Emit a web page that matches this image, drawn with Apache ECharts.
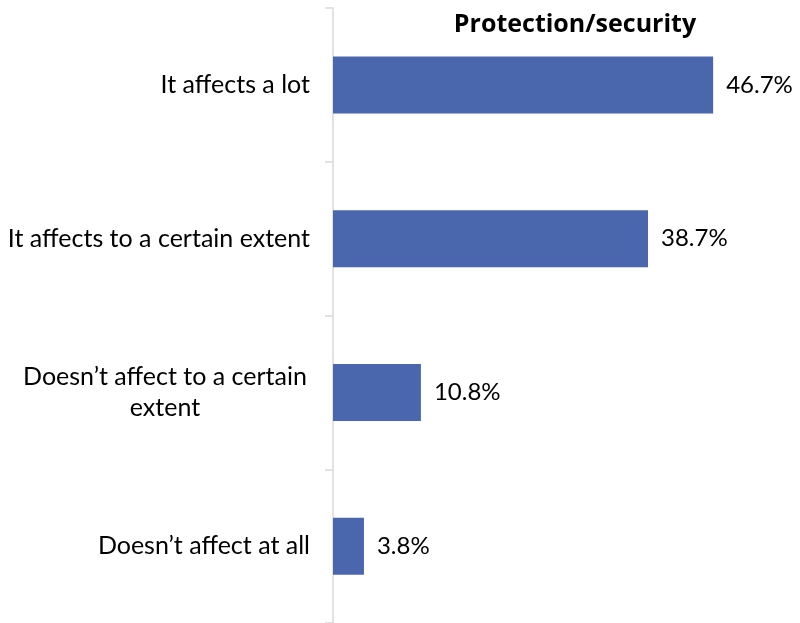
<!DOCTYPE html>
<html><head><meta charset="utf-8">
<script src="https://cdn.jsdelivr.net/npm/echarts@6/dist/echarts.min.js"></script>
<style>html,body{margin:0;padding:0;background:#fff}#c{width:800px;height:623px}</style>
</head><body><div id="c"></div>
<script>
const titleText = 'Protection/security';
const categories = ['It affects a lot', 'It affects to a certain extent', 'Doesn’t affect to a certain extent', 'Doesn’t affect at all'];
const values = [46.7, 38.7, 10.8, 3.8];

const chart = echarts.init(document.getElementById('c'));
const FONT = 'Lato';
chart.setOption({
  animation: false,
  title: {
    text: titleText, left: 570, top: 7, textAlign: 'center',
    textStyle: { fontFamily: 'Open Sans', fontWeight: 'bold', fontSize: 25, color: '#000' }
  },
  grid: { left: 333, right: 60, top: 8, bottom: -1, containLabel: false },
  xAxis: { type: 'value', min: 0, max: 50, show: false },
  yAxis: {
    type: 'category', data: categories, inverse: true,
    axisLine: { show: true, lineStyle: { color: '#d9d9d9', width: 1.5 } },
    axisTick: { show: true, length: 8, lineStyle: { color: '#d9d9d9', width: 1.5 } },
    axisLabel: {
      margin: 23, color: '#000', fontFamily: FONT, fontSize: 25,
      formatter: function (v) {
        if (v === 'Doesn’t affect to a certain extent') return '{w|Doesn’t affect to a certain}\n{w|extent}';
        return v;
      },
      rich: { w: { width: 290, align: 'center', fontFamily: FONT, fontSize: 25, color: '#000', lineHeight: 31 } }
    },
    splitLine: { show: false }
  },
  series: [{
    type: 'bar', data: values, barWidth: 57,
    itemStyle: { color: '#4A66AC' },
    label: {
      show: true, position: 'right', distance: 13, color: '#000', fontFamily: FONT, fontSize: 24,
      formatter: p => p.value.toFixed(1) + '%'
    }
  }]
});
</script></body></html>
